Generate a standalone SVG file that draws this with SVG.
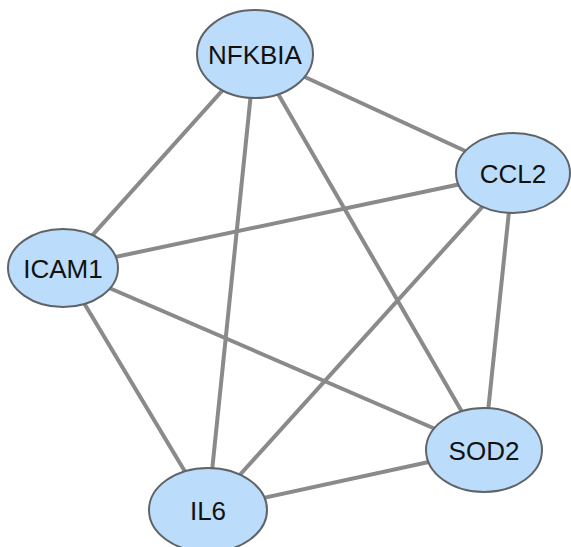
<svg xmlns="http://www.w3.org/2000/svg" width="571" height="547" viewBox="0 0 571 547">
<style>
.edge{stroke:#8a8a8a;stroke-width:4;fill:none}
.node ellipse{fill:#bcdcfb;stroke:#5f6468;stroke-width:2}
.node text{font-family:"Liberation Sans",Arial,sans-serif;font-size:26px;fill:#111;text-anchor:middle;dominant-baseline:central}
</style>
<rect width="571" height="547" fill="#fff"/>
<g id="edges">
<line class="edge" x1="255" y1="54" x2="513" y2="173"/>
<line class="edge" x1="255" y1="54" x2="63" y2="268"/>
<line class="edge" x1="255" y1="54" x2="208" y2="510"/>
<line class="edge" x1="255" y1="54" x2="484" y2="450"/>
<line class="edge" x1="513" y1="173" x2="63" y2="268"/>
<line class="edge" x1="513" y1="173" x2="208" y2="510"/>
<line class="edge" x1="513" y1="173" x2="484" y2="450"/>
<line class="edge" x1="63" y1="268" x2="484" y2="450"/>
<line class="edge" x1="63" y1="268" x2="208" y2="510"/>
<line class="edge" x1="208" y1="510" x2="484" y2="450"/>
</g>
<g id="NFKBIA" class="node"><ellipse cx="255" cy="54" rx="58" ry="44"/><text x="255" y="55">NFKBIA</text></g>
<g id="CCL2" class="node"><ellipse cx="513" cy="173" rx="57" ry="40"/><text x="513" y="174">CCL2</text></g>
<g id="ICAM1" class="node"><ellipse cx="63" cy="268" rx="55" ry="39"/><text x="63" y="269">ICAM1</text></g>
<g id="SOD2" class="node"><ellipse cx="484" cy="450" rx="58" ry="42"/><text x="484" y="451">SOD2</text></g>
<g id="IL6" class="node"><ellipse cx="208" cy="510" rx="59" ry="42"/><text x="208" y="511">IL6</text></g>
</svg>
